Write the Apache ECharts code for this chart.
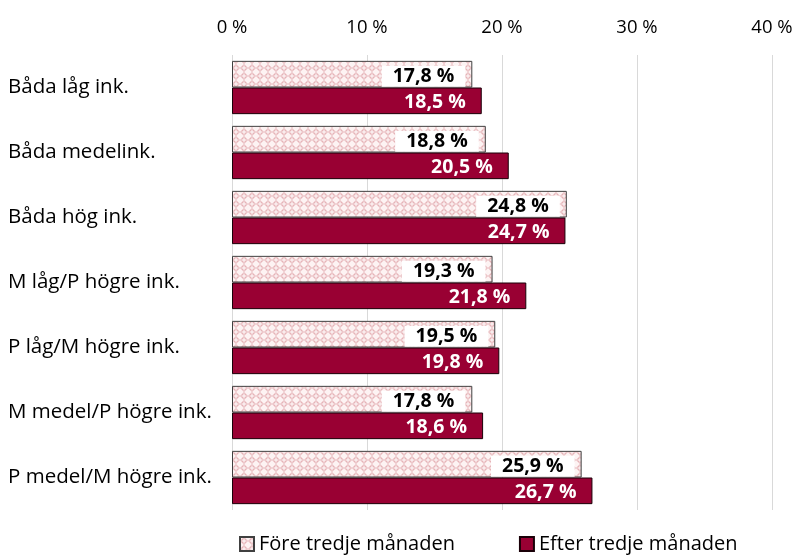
<!DOCTYPE html>
<html><head><meta charset="utf-8">
<script src="https://cdn.jsdelivr.net/npm/echarts@6/dist/echarts.min.js"></script>
<style>html,body{margin:0;padding:0;background:#fff}#c{width:800px;height:555px}</style>
</head><body><div id="c"></div>
<script>
var categories = ['Båda låg ink.', 'Båda medelink.', 'Båda hög ink.', 'M låg/P högre ink.', 'P låg/M högre ink.', 'M medel/P högre ink.', 'P medel/M högre ink.'];
var seriesNames = ['Före tredje månaden', 'Efter tredje månaden'];
var fore = [17.8, 18.8, 24.8, 19.3, 19.5, 17.8, 25.9];
var efter = [18.5, 20.5, 24.7, 21.8, 19.8, 18.6, 26.7];
var axisMax = 40;
var axisStep = 10;

function makePattern() {
  var c = document.createElement('canvas');
  c.width = 8; c.height = 8;
  var g = c.getContext('2d');
  g.fillStyle = '#fdf3f3'; g.fillRect(0, 0, 8, 8);
  g.fillStyle = '#e6b3b7';
  g.beginPath(); g.moveTo(4, 0); g.lineTo(8, 4); g.lineTo(4, 8); g.lineTo(0, 4); g.closePath(); g.fill();
  g.fillStyle = '#ffffff';
  g.fillRect(3.5, 1.5, 1, 5); g.fillRect(1.5, 3.5, 5, 1);
  return c;
}
var pat = makePattern();
function fmt(v) { return v.toFixed(1).replace('.', ',') + ' %'; }
var font = '"Open Sans", sans-serif';
var chart = echarts.init(document.getElementById('c'), null, {renderer: 'canvas'});
chart.setOption({
  animation: false,
  textStyle: {fontFamily: font},
  grid: {left: 232, right: 28, top: 55, bottom: 45, containLabel: false},
  legend: {
    top: 529, left: 234, itemGap: 64, itemWidth: 14, itemHeight: 14, icon: 'rect',
    textStyle: {fontSize: 20, color: '#000', fontFamily: font},
    data: seriesNames
  },
  xAxis: {
    type: 'value', position: 'top', min: 0, max: axisMax, interval: axisStep,
    axisLine: {show: false}, axisTick: {show: false},
    axisLabel: {formatter: function (v) { return v + ' %'; }, fontSize: 18.5, color: '#000', margin: 18},
    splitLine: {lineStyle: {color: '#d9d9d9', width: 1}}
  },
  yAxis: {
    type: 'category', data: categories, inverse: true,
    axisLine: {show: false}, axisTick: {show: false},
    axisLabel: {fontSize: 20.5, color: '#000', align: 'left', margin: 224}
  },
  series: [
    {
      name: seriesNames[0], type: 'bar', data: fore, barGap: '0%', barCategoryGap: '18%',
      itemStyle: {color: {image: pat, repeat: 'repeat'}, borderColor: '#404040', borderWidth: 1},
      label: {show: true, position: 'insideRight', distance: 7, formatter: function (p) { return fmt(p.value); },
        fontSize: 19.5, fontWeight: 'bold', color: '#000', backgroundColor: '#fff', padding: [1, 11, 0, 11], offset: [0, 2]}
    },
    {
      name: seriesNames[1], type: 'bar', data: efter,
      itemStyle: {color: '#990033', borderColor: '#1a0008', borderWidth: 1},
      label: {show: true, position: 'insideRight', distance: 16, formatter: function (p) { return fmt(p.value); },
        fontSize: 19.5, fontWeight: 'bold', color: '#fff', offset: [0, 2]}
    }
  ]
});
</script></body></html>
